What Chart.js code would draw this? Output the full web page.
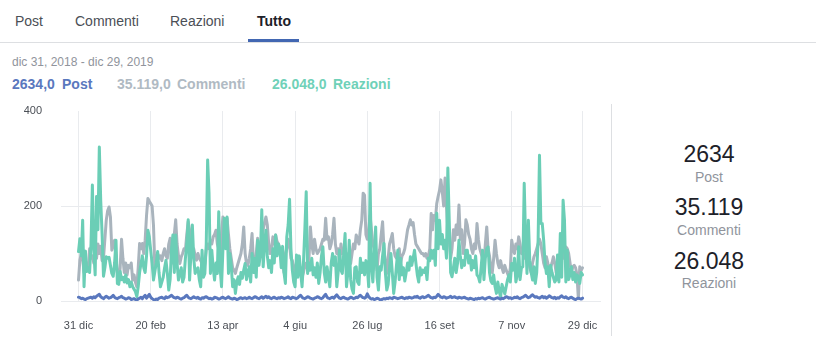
<!DOCTYPE html>
<html>
<head>
<meta charset="utf-8">
<script src="https://cdn.jsdelivr.net/npm/chart.js@4"></script>
<style>
  body { margin: 0; width: 816px; height: 363px; background: #fff; font-family: "Liberation Sans", Arial, sans-serif; position: relative; overflow: hidden; }
  .abs { position: absolute; white-space: nowrap; }
  .tab { font-size: 14px; line-height: 14px; top: 14px; color: #4b4f56; }
  .tab.on { color: #1d2129; font-weight: bold; }
  #tabline { position: absolute; left: 0; right: 0; top: 42px; height: 1px; background: #dddfe2; }
  #tabbar { position: absolute; left: 248px; width: 51px; top: 39px; height: 3px; background: #4267b2; }
  .sum { font-size: 14px; line-height: 14px; top: 77px; font-weight: bold; }
  #side { position: absolute; left: 611px; top: 104px; width: 1px; height: 232px; background: #dddfe2; }
  .big { left: 611px; width: 196px; text-align: center; font-size: 23px; line-height: 23px; color: #1d2129; }
  .lab { left: 611px; width: 196px; text-align: center; font-size: 14px; line-height: 14px; color: #90949c; }
  #wrap { position: absolute; left: 0; top: 100px; width: 610px; height: 240px; }
</style>
</head>
<body>
<div class="abs tab" style="left:15px">Post</div>
<div class="abs tab" style="left:75px">Commenti</div>
<div class="abs tab" style="left:170px">Reazioni</div>
<div class="abs tab on" style="left:257px">Tutto</div>
<div id="tabline"></div>
<div id="tabbar"></div>

<div class="abs" style="left:12px;top:56px;font-size:12px;line-height:12px;color:#90949c">dic 31, 2018 - dic 29, 2019</div>
<div class="abs sum" style="left:12px;color:#5a78be">2634,0</div>
<div class="abs sum" style="left:62px;color:#5a78be">Post</div>
<div class="abs sum" style="left:117px;color:#b0bac3">35.119,0</div>
<div class="abs sum" style="left:177px;color:#b0bac3">Commenti</div>
<div class="abs sum" style="left:272px;color:#6fd1b8">26.048,0</div>
<div class="abs sum" style="left:333px;color:#6fd1b8">Reazioni</div>

<div id="side"></div>
<div class="abs big" style="top:143px">2634</div>
<div class="abs lab" style="top:170px">Post</div>
<div class="abs big" style="top:196px">35.119</div>
<div class="abs lab" style="top:223px">Commenti</div>
<div class="abs big" style="top:250px">26.048</div>
<div class="abs lab" style="top:276px">Reazioni</div>

<div id="wrap"><canvas id="chart" width="610" height="240"></canvas></div>

<script>
// daily values, 31 dic 2018 .. 29 dic 2019
const postData = [
  8,7,5,6,4,3,5,6,7,8, 6,9,7,10,12,14,9,7,5,8, 10,8,6,7,9,12,8,6,5,7, 8,10,7,6,4,5,7,6,3,4,
  5,3,2,4,6,8,5,9,12,6, 10,14,8,5,3,2,4,3,6,7, 8,6,5,9,7,8,10,12,9,7, 6,8,7,5,4,6,7,10,12,8,
  6,5,7,9,7,6,8,5,4,7, 6,8,9,7,5,6,4,5,8,7, 6,4,5,7,8,6,5,7,9,6, 5,4,6,5,3,4,6,7,5,6,
  7,5,6,8,6,5,7,9,8,6, 5,7,9,6,8,10,7,9,6,5, 7,8,6,5,7,6,8,7,5,6, 7,9,6,5,8,7,6,5,7,10,
  12,8,6,5,7,9,8,6,5,4, 6,7,9,8,6,5,7,11,14,8, 6,5,7,8,6,10,13,9,6,5, 7,8,6,5,4,6,8,7,5,6,
  8,7,10,12,9,7,6,8,15,9, 6,4,5,3,4,6,5,3,2,4, 5,4,6,5,7,6,5,8,7,6, 5,6,7,8,6,5,7,6,8,7,
  6,7,9,8,10,7,6,8,9,7, 8,10,12,9,7,6,8,7,10,14, 11,8,7,9,8,6,7,8,10,7, 8,9,7,6,8,7,6,7,8,6,
  5,4,6,5,4,3,5,4,6,5, 6,7,5,4,6,7,8,6,5,4, 5,6,7,5,4,6,5,7,9,8, 6,7,5,6,8,7,9,6,5,7,
  8,10,12,9,7,8,11,13,10,8, 9,7,6,8,10,7,9,6,8,11, 9,7,6,8,5,7,6,9,11,8, 7,9,6,5,7,8,6,4,3,5,
  6,5,4,6
];
const commentData = [
  44,86,100,90,60,70,80,65,110,90, 95,80,110,90,120,100,115,85,90,130, 170,190,198,177,107,120,128,90,60,44,
  70,130,90,60,80,55,75,70,80,44, 55,40,30,70,121,110,121,100,128,180, 216,210,205,200,160,70,85,100,90,95,
  85,100,110,95,90,120,132,79,110,140, 171,120,95,79,93,100,110,107,140,167, 150,128,100,110,95,86,100,90,85,79,
  58,80,107,120,110,128,120,135,140,149, 120,110,86,140,177,160,170,174,140,110, 90,70,65,58,70,80,90,100,120,156,
  100,79,75,90,110,142,80,60,100,132, 110,100,105,150,165,177,160,120,100,110, 135,120,139,125,120,110,100,80,60,100,
  110,130,120,90,85,70,60,80,55,65, 70,50,60,75,80,65,90,156,120,100, 130,110,100,105,110,120,130,128,174,130,
  135,110,120,140,174,120,100,110,80,120, 100,110,85,100,90,80,79,100,120,110, 139,130,120,150,170,227,223,140,130,150,
  180,149,120,110,100,65,100,110,140,167, 110,80,58,90,120,130,142,110,95,90, 100,110,80,95,100,110,130,150,160,171,
  160,165,140,120,115,110,105,100,100,95, 100,90,95,110,184,150,180,170,205,220, 233,255,230,200,259,200,150,130,90,110,
  150,128,160,140,202,130,150,100,120,171, 160,140,130,110,100,120,110,163,130,110, 100,90,80,120,156,110,95,70,60,90,
  128,100,80,70,85,70,60,75,65,58, 50,70,128,110,100,120,110,135,120,100, 100,90,100,95,90,70,60,80,93,100,
  110,120,130,120,100,80,70,93,80,60, 70,80,93,80,60,50,70,80,100,90, 100,114,110,100,80,60,72,75,70,55,
  5,72,65,70
];
const reactionData = [
  104,131,95,170,30,105,62,70,60,120, 244,107,55,220,150,324,212,140,52,70, 93,90,92,75,58,52,80,128,37,35,
  62,45,50,40,55,38,45,30,40,30, 25,20,9,30,60,79,95,70,60,95, 149,135,107,80,44,62,80,104,60,30,
  40,50,70,86,58,23,45,110,139,60, 139,80,44,58,70,40,50,90,120,171, 44,100,160,90,58,65,70,45,30,107,
  50,58,120,297,227,58,107,70,44,80, 58,188,70,30,107,174,110,177,58,100, 75,30,45,16,40,51,35,60,48,65,
  79,45,60,72,40,100,60,90,50,128, 75,100,192,72,120,149,95,70,85,60, 110,80,139,95,120,110,70,115,60,37,
  135,160,214,110,65,40,30,97,50,95, 60,30,80,150,230,58,80,65,90,55, 70,50,80,37,60,95,114,60,40,72,
  50,30,80,100,75,93,30,60,107,65, 58,100,142,30,60,128,45,25,16,70, 72,40,35,90,60,80,55,85,70,30,
  248,72,40,100,156,50,23,72,65,95, 121,60,23,35,70,100,60,16,40,75, 107,45,90,55,70,42,60,80,65,93,
  75,90,107,80,55,40,70,55,65,60, 70,45,90,85,107,90,107,75,185,110, 170,120,140,110,128,90,280,170,60,51,
  70,90,60,80,128,95,70,85,75,107, 107,80,95,65,85,70,95,55,51,40, 72,107,45,90,110,114,60,42,37,55,
  30,16,40,20,9,35,25,15,30,45, 55,40,79,65,90,40,55,114,45,70, 72,248,128,58,170,86,60,44,72,37,
  60,128,307,163,163,128,80,58,72,30, 75,60,50,40,45,97,40,142,50,212, 170,40,107,45,55,72,45,60,40,55,
  50,37,60,55
];
const tickPos = [0, 52, 104, 156, 208, 260, 312, 363];
const tickText = ["31 dic", "20 feb", "13 apr", "4 giu", "26 lug", "16 set", "7 nov", "29 dic"];

const toPoints = arr => arr.map((v, i) => ({ x: i, y: v }));

const axisFont = { family: "'Liberation Sans', Arial, sans-serif", size: 11 };

new Chart(document.getElementById("chart").getContext("2d"), {
  type: "line",
  data: {
    datasets: [
      { label: "Post", data: toPoints(postData), borderColor: "#5a78be", borderWidth: 3 },
      { label: "Reazioni", data: toPoints(reactionData), borderColor: "#6bceb6", borderWidth: 3 },
      { label: "Commenti", data: toPoints(commentData), borderColor: "#a9b4bd", borderWidth: 3 }
    ]
  },
  options: {
    responsive: false,
    animation: false,
    devicePixelRatio: 1,
    layout: { padding: { left: 0, right: 9, top: 11, bottom: 0 } },
    elements: {
      point: { radius: 0, hoverRadius: 0 },
      line: { tension: 0, borderJoinStyle: "round", borderCapStyle: "round", fill: false }
    },
    plugins: { legend: { display: false }, tooltip: { enabled: false } },
    scales: {
      x: {
        type: "linear",
        min: -12.6,
        max: 376.3,
        afterBuildTicks: scale => { scale.ticks = tickPos.map(v => ({ value: v })); },
        afterFit: scale => { scale.height = 39; scale.paddingLeft = 0; scale.paddingRight = 0; },
        border: { display: false },
        grid: { color: "#e9ebee", drawTicks: false },
        ticks: {
          autoSkip: false,
          maxRotation: 0,
          padding: 18,
          color: "#4b4f56",
          font: axisFont,
          callback: (v, i) => tickText[i]
        }
      },
      y: {
        min: 0,
        max: 400,
        afterFit: scale => { scale.width = 61; scale.paddingTop = 0; scale.paddingBottom = 0; },
        border: { display: false },
        grid: {
          drawTicks: false,
          color: ctx => (ctx.tick && ctx.tick.value === 400 ? "rgba(0,0,0,0)" : "#e9ebee")
        },
        ticks: { stepSize: 200, padding: 19, color: "#4b4f56", font: axisFont }
      }
    }
  }
});
</script>
</body>
</html>
